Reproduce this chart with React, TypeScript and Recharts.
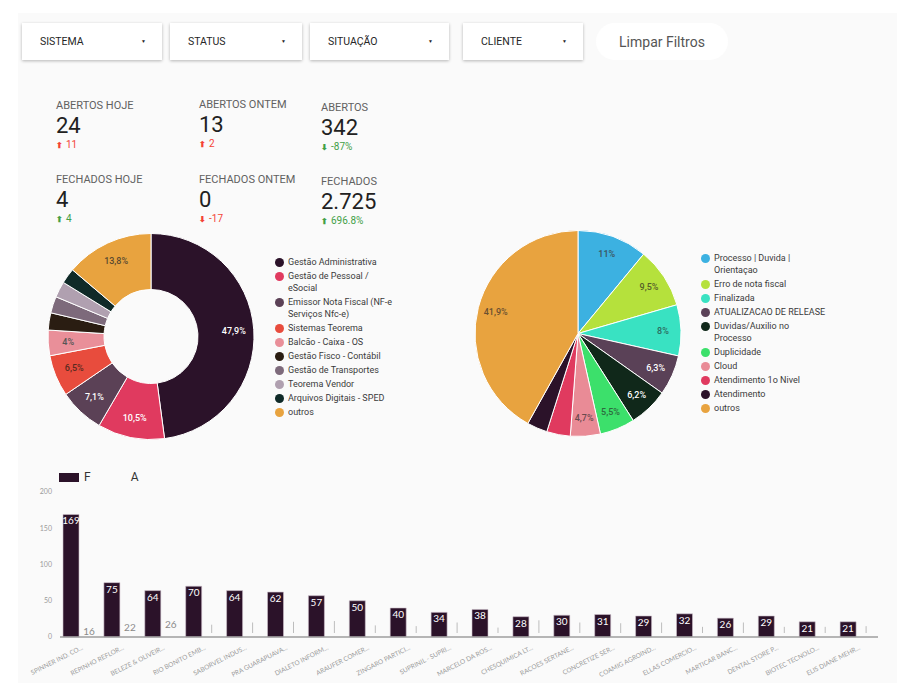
import React from 'react'
import { PieChart, Pie, Cell, BarChart, Bar, XAxis, YAxis, LabelList } from 'recharts'

// --- dados ---------------------------------------------------------------

const FILTERS = ['SISTEMA', 'STATUS', 'SITUAÇÃO', 'CLIENTE']

const KPI_TITLES = ['ABERTOS HOJE', 'ABERTOS ONTEM', 'ABERTOS', 'FECHADOS HOJE', 'FECHADOS ONTEM', 'FECHADOS']
const KPI_VALUES = ['24', '13', '342', '4', '0', '2.725']
const KPI_DELTAS = ['11', '2', '-87%', '4', '-17', '696.8%']
const KPI_UP = [true, true, false, true, false, true]
const KPI_GOOD = [false, false, true, true, false, true]

const SYSTEM_NAMES = [
  'Gestão Administrativa',
  'Gestão de Pessoal / eSocial',
  'Emissor Nota Fiscal (NF-e Serviços Nfc-e)',
  'Sistemas Teorema',
  'Balcão - Caixa - OS',
  'Gestão Fisco - Contábil',
  'Gestão de Transportes',
  'Teorema Vendor',
  'Arquivos Digitais - SPED',
  'outros',
]
const SYSTEM_PCT = [47.9, 10.5, 7.1, 6.5, 4, 2.7, 2.6, 2.5, 2.4, 13.8]

const STATUS_NAMES = [
  'Processo | Duvida | Orientaçao',
  'Erro de nota fiscal',
  'Finalizada',
  'ATUALIZACAO DE RELEASE',
  'Duvidas/Auxilio no Processo',
  'Duplicidade',
  'Cloud',
  'Atendimento 1o Nivel',
  'Atendimento',
  'outros',
]
const STATUS_PCT = [11, 9.5, 8, 6.3, 6.2, 5.5, 4.7, 3.7, 3.2, 41.9]

const CLIENTS = [
  'SPINNER IND. CO...', 'REPINHO REFLOR...', 'BELEZE & OLIVEIR...', 'RIO BONITO EMB...',
  'SABORVEL INDUS...', 'PRA GUARAPUAVA...', 'DIALETO INFORM...', 'ARAUFER COMER...',
  'ZINGARO PARTICI...', 'SUPRINIL - SUPRI...', 'MARCELO DA ROS...', 'CHESQUIMICA LT...',
  'RACOES SERTANE...', 'CONCRETIZE SER...', 'COAMIG AGROIND...', 'ELLAS COMERCIO...',
  'MARTICAR BANC...', 'DENTAL STORE P...', 'BIOTEC TECNOLO...', 'ELIS DIANE MEHR...',
]
const FECHADOS = [169, 75, 64, 70, 64, 62, 57, 50, 40, 34, 38, 28, 30, 31, 29, 32, 26, 29, 21, 21]
const ABERTOS = [16, 22, 26, 17, 20, 21, 22, 16, 15, 20, 13, 23, 20, 19, 20, 14, 20, 14, 14, 15]
// só os três primeiros valores de "A" aparecem escritos
const A_LABELED = 3

// --- estilos --------------------------------------------------------------

const FONT = 'Roboto, "Noto Sans", sans-serif'
const SYSTEM_COLORS = ['#2b1229', '#e03a5f', '#5b4156', '#e84c3d', '#e98f99', '#2a1d12', '#7d6a7b', '#b0a0b0', '#0f2a28', '#e8a33f']
const SYSTEM_INK = ['#fff', '#fff', '#fff', '#5a2a20', '#555', '#fff', '#fff', '#444', '#fff', '#5a4a30']
const STATUS_COLORS = ['#3cb1e1', '#b5e13c', '#39e2c2', '#5a4157', '#10281a', '#3ce06b', '#e98b96', '#e03a5f', '#2b1229', '#e8a33f']
const STATUS_INK = ['#3d5560', '#55602a', '#2d6a5e', '#fff', '#fff', '#2d6a3e', '#6a4a4e', '#fff', '#fff', '#6a5030']

const NO_MARGIN = { top: 0, right: 0, bottom: 0, left: 0 }
const RAD = Math.PI / 180

function sliceLabel(radius: number, ink: string[]) {
  return (props: any) => {
    const { cx, cy, midAngle, index, value } = props
    if (value < 4) return null
    const x = cx + radius * Math.cos(-midAngle * RAD)
    const y = cy + radius * Math.sin(-midAngle * RAD)
    return (
      <text x={x} y={y} fill={ink[index]} fontSize={9} fontWeight={500} fontFamily={FONT}
        textAnchor="middle" dominantBaseline="central">
        {String(value).replace('.', ',')}%
      </text>
    )
  }
}

function FilterBox({ label, left, width }: { label: string; left: number; width: number }) {
  return (
    <div style={{
      position: 'absolute', left, top: 23, width, height: 37, background: '#fff',
      boxShadow: '0 1px 3px rgba(0,0,0,0.28)', fontFamily: FONT, fontSize: 10.5, color: '#262626',
    }}>
      <span style={{ position: 'absolute', left: 18, top: 12 }}>{label}</span>
      <span style={{ position: 'absolute', right: 16, top: 15, fontSize: 5 }}>▼</span>
    </div>
  )
}

function Kpi({ i, left, top }: { i: number; left: number; top: number }) {
  const color = KPI_GOOD[i] ? '#43a047' : '#f44336'
  return (
    <div style={{ position: 'absolute', left, top, fontFamily: FONT }}>
      <div style={{ fontSize: 11, lineHeight: '11px', color: '#616161' }}>{KPI_TITLES[i]}</div>
      <div style={{ fontSize: 22, lineHeight: '22px', color: '#212121', marginTop: 4 }}>{KPI_VALUES[i]}</div>
      <div style={{ fontSize: 10, lineHeight: '10px', color, marginTop: 3 }}>
        <span style={{ fontSize: 8, fontWeight: 700, marginRight: 3 }}>{KPI_UP[i] ? '⬆' : '⬇'}</span>
        {KPI_DELTAS[i]}
      </div>
    </div>
  )
}

function DotLegend({ names, colors, left, top, width }: { names: string[]; colors: string[]; left: number; top: number; width: number }) {
  return (
    <div style={{ position: 'absolute', left, top, width, fontFamily: FONT, fontSize: 9, lineHeight: '12px', color: '#3a3a3a' }}>
      {names.map((n, i) => (
        <div key={n} style={{ display: 'flex', alignItems: 'flex-start', marginBottom: 2 }}>
          <span style={{ width: 9, height: 9, borderRadius: '50%', background: colors[i], flexShrink: 0, marginTop: 1.5, marginRight: 4 }} />
          <span>{n}</span>
        </div>
      ))}
    </div>
  )
}

// barra "A": só um traço fino no meio da coluna
function ThinMark(props: any) {
  const { x, y, width, height, index } = props
  if (index < A_LABELED || height <= 0) return null
  const mx = x + width / 2
  return <line x1={mx} x2={mx} y1={y} y2={y + height - 4} stroke="#bdbdbd" strokeWidth={1} />
}

function ALabel(props: any) {
  const { x, y, width, value, index } = props
  if (index >= A_LABELED) return null
  return (
    <text x={x + width / 2} y={y + 10} textAnchor="middle" fontSize={10} fill="#8a8a8a" fontFamily="Lato, sans-serif">{value}</text>
  )
}

function FLabel(props: any) {
  const { x, y, width, value } = props
  return (
    <text x={x + width / 2} y={y + 10} textAnchor="middle" fontSize={10} fill="#fff" fontFamily="Lato, sans-serif">{value}</text>
  )
}

function ClientTick(props: any) {
  const { x, y, payload } = props
  const tx = x + 3
  const ty = y + 4
  return (
    <text x={tx} y={ty} transform={`rotate(-27 ${tx} ${ty})`} textAnchor="end" fontSize={6.5}
      fill="#9a9a9a" fontFamily="Lato, sans-serif">
      {payload.value}
    </text>
  )
}

export default function App() {
  const systemData = SYSTEM_NAMES.map((name, i) => ({ name, value: SYSTEM_PCT[i] }))
  const statusData = STATUS_NAMES.map((name, i) => ({ name, value: STATUS_PCT[i] }))
  const clientData = CLIENTS.map((name, i) => ({ name, F: FECHADOS[i], A: ABERTOS[i] }))

  const filterBoxes = [
    { left: 22, width: 140 },
    { left: 170, width: 132 },
    { left: 310, width: 139 },
    { left: 463, width: 120 },
  ]
  const kpiPos = [
    { left: 56, top: 100 }, { left: 199, top: 99 }, { left: 321, top: 102 },
    { left: 56, top: 174 }, { left: 199, top: 174 }, { left: 321, top: 176 },
  ]

  return (
    <div style={{ position: 'absolute', left: 0, top: 0, width: 897, height: 683, background: '#fff', overflow: 'hidden' }}>
      <div style={{ position: 'absolute', left: 18, top: 13, right: 0, bottom: 0, background: '#fafafa' }} />

      {FILTERS.map((f, i) => (
        <FilterBox key={f} label={f} left={filterBoxes[i].left} width={filterBoxes[i].width} />
      ))}
      <div style={{
        position: 'absolute', left: 596, top: 23, width: 132, height: 37, borderRadius: 19, background: '#fff',
        fontFamily: FONT, fontSize: 14, color: '#555', display: 'flex', alignItems: 'center', justifyContent: 'center',
      }}>Limpar Filtros</div>

      {KPI_TITLES.map((t, i) => (
        <Kpi key={t} i={i} left={kpiPos[i].left} top={kpiPos[i].top} />
      ))}

      {/* pizza por sistema */}
      <div style={{ position: 'absolute', left: 20, top: 222 }}>
        <PieChart width={260} height={230} margin={NO_MARGIN}>
          <Pie data={systemData} dataKey="value" nameKey="name" cx={131} cy={114.5}
            innerRadius={47} outerRadius={103} startAngle={90} endAngle={-270}
            stroke="#fff" strokeWidth={1} isAnimationActive={false}
            label={sliceLabel(83, SYSTEM_INK)} labelLine={false}>
            {systemData.map((d, i) => <Cell key={d.name} fill={SYSTEM_COLORS[i]} />)}
          </Pie>
        </PieChart>
      </div>
      <DotLegend names={SYSTEM_NAMES} colors={SYSTEM_COLORS} left={275} top={256} width={120} />

      {/* pizza por situação */}
      <div style={{ position: 'absolute', left: 460, top: 222 }}>
        <PieChart width={240} height={230} margin={NO_MARGIN}>
          <Pie data={statusData} dataKey="value" nameKey="name" cx={118} cy={111.5}
            innerRadius={0} outerRadius={103} startAngle={90} endAngle={-270}
            stroke="#fff" strokeWidth={1} isAnimationActive={false}
            label={sliceLabel(85, STATUS_INK)} labelLine={false}>
            {statusData.map((d, i) => <Cell key={d.name} fill={STATUS_COLORS[i]} />)}
          </Pie>
        </PieChart>
      </div>
      <DotLegend names={STATUS_NAMES} colors={STATUS_COLORS} left={701} top={252} width={125} />

      {/* legenda do gráfico de barras */}
      <div style={{ position: 'absolute', left: 59, top: 470, fontFamily: FONT, fontSize: 12, color: '#333', display: 'flex', alignItems: 'center' }}>
        <span style={{ width: 20, height: 9, background: '#2b1229', marginRight: 5 }} />
        <span>F</span>
        <span style={{ width: 20, height: 9, background: 'transparent', marginLeft: 15, marginRight: 5 }} />
        <span>A</span>
      </div>

      {/* fechados x abertos por cliente */}
      <div style={{ position: 'absolute', left: 0, top: 460 }}>
        <BarChart width={897} height={223} data={clientData} margin={{ top: 32, right: 19, left: 0, bottom: 0 }}
          barSize={16} barGap={2}>
          <XAxis dataKey="name" interval={0} height={46} tickLine={false}
            axisLine={{ stroke: '#9e9e9e', strokeWidth: 1.5 }} tick={<ClientTick />} />
          <YAxis domain={[0, 200]} ticks={[0, 50, 100, 150, 200]} width={60} axisLine={false} tickLine={false}
            tick={{ fontSize: 7, fill: '#9a9a9a', fontFamily: 'Lato, sans-serif' }} />
          <Bar dataKey="F" fill="#2b1229" stroke="#cdbfcb" strokeWidth={0.6} isAnimationActive={false}>
            <LabelList dataKey="F" content={<FLabel />} />
          </Bar>
          <Bar dataKey="A" fill="transparent" shape={<ThinMark />} isAnimationActive={false}>
            <LabelList dataKey="A" content={<ALabel />} />
          </Bar>
        </BarChart>
      </div>
    </div>
  )
}
